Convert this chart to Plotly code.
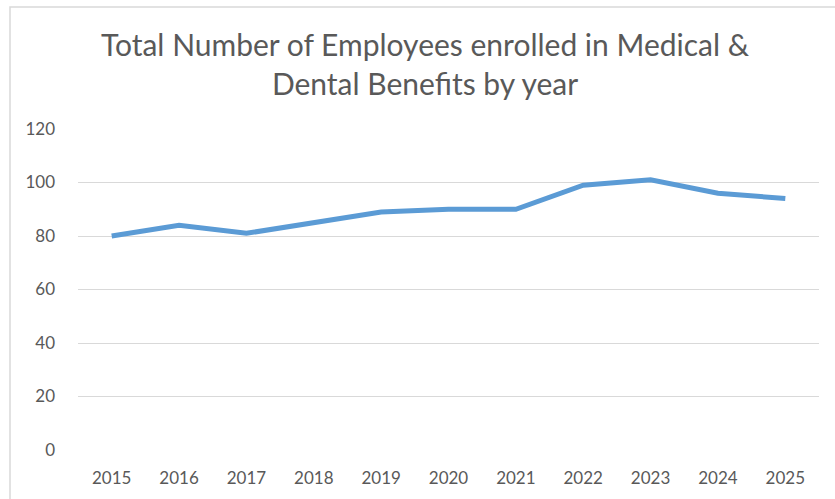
import plotly.graph_objects as go

years = ["2015", "2016", "2017", "2018", "2019", "2020", "2021", "2022", "2023", "2024", "2025"]
enrolled = [80, 84, 81, 85, 89, 90, 90, 99, 101, 96, 94]
y_ticks = [0, 20, 40, 60, 80, 100, 120]

W, H = 835, 499
L, R, T, B = 78, 16, 129, 49
pw, ph = W - L - R, H - T - B

fig = go.Figure()
fig.add_trace(go.Scatter(
    x=years, y=enrolled, mode="lines",
    line=dict(color="#5B9BD5", width=5),
    hoverinfo="x+y",
))

font_family = "Lato, Open Sans, Liberation Sans, sans-serif"

fig.update_layout(
    width=W, height=H,
    margin=dict(l=L, r=R, t=T, b=B),
    paper_bgcolor="white", plot_bgcolor="white",
    showlegend=False,
    title=dict(
        text="Total Number of Employees enrolled in Medical &amp;<br>Dental Benefits by year",
        x=425 / W, xanchor="center", xref="container",
        y=1 - 56 / H, yanchor="middle", yref="container",
        font=dict(family=font_family, size=30, color="#595959"),
    ),
    font=dict(family=font_family, size=17, color="#595959"),
    xaxis=dict(
        type="category", range=[-0.5, len(years) - 0.5],
        showgrid=False, zeroline=False, showline=False,
        ticks="", ticklabelstandoff=16,
        tickfont=dict(size=17, color="#595959"),
    ),
    yaxis=dict(
        range=[0, 120], tickvals=y_ticks, showgrid=True, gridcolor="#D9D9D9",
        gridwidth=1.3, zeroline=False, showline=False, ticks="",
        ticklabelstandoff=22, tickfont=dict(size=17, color="#595959"),
    ),
    shapes=[dict(
        type="rect", xref="paper", yref="paper",
        x0=(10 - L) / pw, x1=(W + 5 - L) / pw,
        y0=-(B + 5) / ph, y1=1 + (T - 7) / ph,
        line=dict(color="#D9D9D9", width=1.5), fillcolor="rgba(0,0,0,0)",
        layer="below",
    )],
)

fig.write_html("out.html")
